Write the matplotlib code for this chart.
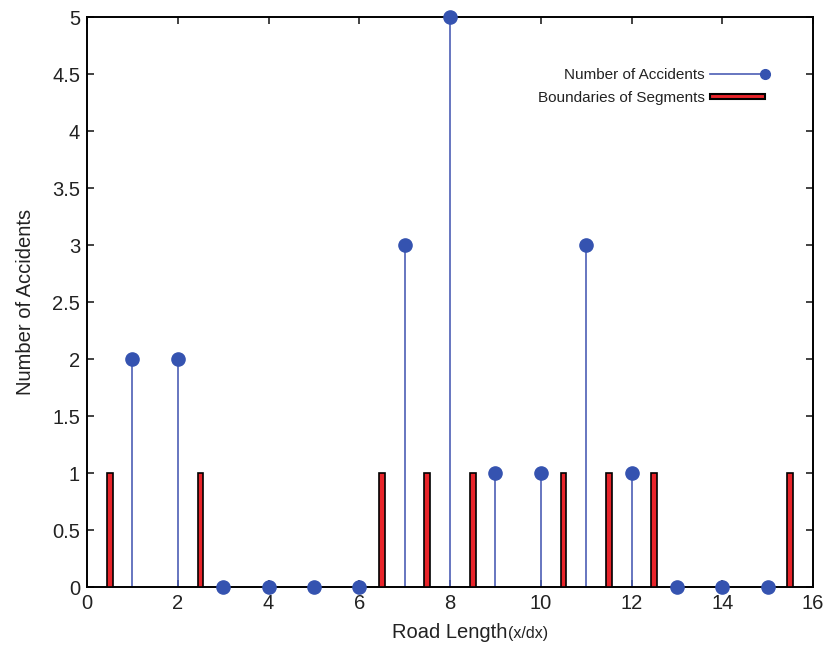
import matplotlib
matplotlib.use('Agg')
import matplotlib.pyplot as plt
from matplotlib.legend_handler import HandlerBase
from matplotlib.lines import Line2D
from matplotlib.patches import Rectangle
import numpy as np

# accidents counted per unit of road length
positions = np.arange(1, 16)
accidents = [2, 2, 0, 0, 0, 0, 3, 5, 1, 1, 3, 1, 0, 0, 0]

# segment boundaries drawn as short bars
boundaries = [0.5, 2.5, 6.5, 7.5, 8.5, 10.5, 11.5, 12.5, 15.5]
boundary_height = [1] * len(boundaries)

STEM_COLOR = '#4d5fb5'
DOT_COLOR = '#3553b0'
BAR_COLOR = '#e8242a'
TEXT_COLOR = '#222222'

plt.rcParams['font.family'] = ['Liberation Sans', 'DejaVu Sans']


class StemHandler(HandlerBase):
    """Legend key: a line with the marker sitting at its right end."""
    def create_artists(self, legend, orig, xdescent, ydescent, width, height,
                       fontsize, trans):
        y = height / 2 - ydescent
        line = Line2D([-xdescent, width - xdescent], [y, y], color=STEM_COLOR,
                      linewidth=1.2, transform=trans)
        dot = Line2D([width - xdescent], [y], marker='o', color=DOT_COLOR,
                     markersize=7, linestyle='', transform=trans)
        return [line, dot]


class ThinBarHandler(HandlerBase):
    """Legend key: a flat red bar with black edge."""
    def create_artists(self, legend, orig, xdescent, ydescent, width, height,
                       fontsize, trans):
        h = height * 0.4
        rect = Rectangle((-xdescent, height / 2 - ydescent - h / 2), width, h,
                         facecolor=BAR_COLOR, edgecolor='black', linewidth=1.5,
                         transform=trans)
        return [rect]


fig = plt.figure(figsize=(8.25, 6.47), dpi=100)
ax = fig.add_axes([0.1055, 0.0927, 0.88, 0.881])

markerline, stemlines, baseline = ax.stem(positions, accidents, basefmt=' ')
plt.setp(stemlines, color=STEM_COLOR, linewidth=1.2)
plt.setp(markerline, color=DOT_COLOR, markersize=9.5, clip_on=False, zorder=5)

bars = ax.bar(boundaries, boundary_height, width=0.13, color=BAR_COLOR,
              edgecolor='black', linewidth=1.2, zorder=3)

ax.set_xlim(0, 16)
ax.set_ylim(0, 5)
ax.set_xticks(np.arange(0, 17, 2))
ax.set_yticks(np.arange(0, 5.01, 0.5))
ax.set_yticklabels(['0', '0.5', '1', '1.5', '2', '2.5', '3', '3.5', '4', '4.5', '5'])
ax.tick_params(direction='in', top=True, right=True, labelsize=14.5, length=5,
               width=1.2, pad=5, colors=TEXT_COLOR)
for s in ax.spines.values():
    s.set_linewidth(1.4)

ax.set_ylabel('Number of Accidents', fontsize=14.5, color=TEXT_COLOR, labelpad=12)
fig.text(0.615, 0.014, 'Road Length', fontsize=14.5, color=TEXT_COLOR,
         ha='right', va='baseline')
fig.text(0.616, 0.014, '(x/dx)', fontsize=11.5, color=TEXT_COLOR,
         ha='left', va='baseline')

leg = ax.legend([markerline, bars], ['Number of Accidents', 'Boundaries of Segments'],
                handler_map={markerline: StemHandler(), bars: ThinBarHandler()},
                loc='upper right', bbox_to_anchor=(0.934, 0.91), frameon=False,
                markerfirst=False, fontsize=11, handlelength=3.6,
                handletextpad=0.35, labelspacing=0.55, borderpad=0,
                borderaxespad=0)
for t in leg.get_texts():
    t.set_color(TEXT_COLOR)

fig.savefig('out.png', dpi=100)
